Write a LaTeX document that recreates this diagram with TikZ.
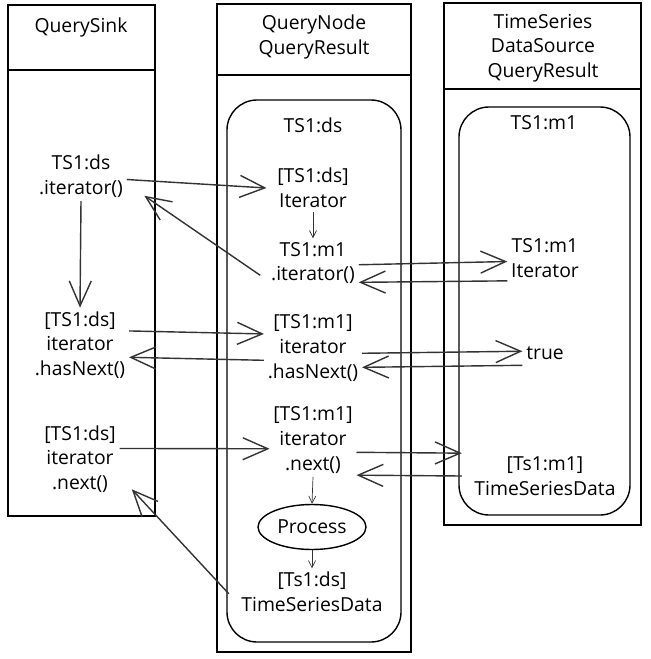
\documentclass[tikz,border=0pt]{standalone}
\usepackage{fontspec}
\setmainfont{Open Sans}
\usetikzlibrary{arrows.meta}
\usetikzlibrary{shapes.geometric}

\begin{document}
\begin{tikzpicture}[x=0.2mm, y=-0.2mm,
        lbl/.style={align=center, font=\fontsize{11}{14}\selectfont, inner sep=2pt},
        flow/.style={thick, black!80, -{Straight Barb[length=5mm, width=4.4mm]}},
        shortflow/.style={thin, black!80, -{Straight Barb[length=1.4mm, width=1.4mm]}}]
        \useasboundingbox (0,0) rectangle (650,659);
        % columns
        \draw[thick] (8,5) rectangle (155,516);
        \draw[thick] (8,70) -- (155,70);
        \draw[thick] (217,4) rectangle (411,652);
        \draw[thick] (217,75) -- (411,75);
        \draw[thick, rounded corners=6mm] (227,100) rectangle (401,642);
        \draw[thick] (444,3) rectangle (641,525);
        \draw[thick] (444,89) -- (641,89);
        \draw[thick, rounded corners=6mm] (459,107) rectangle (630,515);
        % titles
        \node[lbl] (sinkTitle) at (81,27) {QuerySink};
        \node[lbl] (nodeTitle) at (314,37) {QueryNode\\QueryResult};
        \node[lbl] (srcTitle) at (543,48) {TimeSeries\\DataSource\\QueryResult};
        \node[lbl] (dsLabel) at (313,125) {TS1:ds};
        \node[lbl] (m1Label) at (544,123) {TS1:m1};
        % QuerySink
        \node[lbl] (sinkIter) at (81,176) {TS1:ds\\.iterator()};
        \node[lbl] (sinkHasNext) at (80,345) {[TS1:ds]\\iterator\\.hasNext()};
        \node[lbl] (sinkNext) at (80,459) {[TS1:ds]\\iterator\\.next()};
        % QueryNode
        \node[lbl] (dsIter) at (313,188) {[TS1:ds]\\Iterator};
        \node[lbl] (m1IterCall) at (313,263) {TS1:m1\\.iterator()};
        \node[lbl] (m1HasNext) at (313,348) {[TS1:m1]\\iterator\\.hasNext()};
        \node[lbl] (m1Next) at (313,440) {[TS1:m1]\\iterator\\.next()};
        \node[lbl, draw, thick, ellipse, minimum width=19mm, minimum height=9mm] (process) at (312,527) {Process};
        \node[lbl] (dsData) at (312,592) {[Ts1:ds]\\TimeSeriesData};
        % TimeSeries DataSource
        \node[lbl] (m1Iter) at (545,258) {TS1:m1\\Iterator};
        \node[lbl] (trueVal) at (545,353) {true};
        \node[lbl] (m1Data) at (545,476) {[Ts1:m1]\\TimeSeriesData};
        % calls
        \draw[flow] ([yshift=-2pt]sinkIter.east) -- ([xshift=-4pt]dsIter.west);
        \draw[flow] ([xshift=-4pt, yshift=-7pt]m1IterCall.west) -- ([xshift=10pt, yshift=3pt]sinkIter.south east);
        \draw[flow] (sinkIter.south) -- (sinkHasNext.north);
        \draw[shortflow] (dsIter.south) -- (m1IterCall.north);
        \draw[flow] ([yshift=-1pt]m1IterCall.east) -- ([yshift=-2pt]m1Iter.west);
        \draw[flow] ([yshift=-13pt]m1Iter.west) -- ([yshift=-11pt]m1IterCall.east);
        \draw[flow] ([yshift=8pt]sinkHasNext.east) -- ([yshift=8pt]m1HasNext.west);
        \draw[flow] ([yshift=-7pt]m1HasNext.west) -- ([yshift=-7pt]sinkHasNext.east);
        \draw[flow] ([yshift=-3pt]m1HasNext.east) -- ([yshift=1pt]trueVal.west);
        \draw[flow] ([yshift=-7pt]trueVal.west) -- ([yshift=-11pt]m1HasNext.east);
        \draw[flow] ([yshift=6pt]sinkNext.east) -- ([yshift=-5pt]m1Next.west);
        \draw[flow] ([yshift=-7pt]m1Next.east) -- ([xshift=-5pt, yshift=13pt]m1Data.west);
        \draw[flow] ([xshift=-5pt]m1Data.west) -- ([yshift=-20pt]m1Next.east);
        \draw[shortflow] (m1Next.south) -- (process.north);
        \draw[shortflow] (process.south) -- (dsData.north);
        \draw[flow] ([xshift=-5pt, yshift=-1pt]dsData.west) -- ([xshift=7pt, yshift=4pt]sinkNext.south east);
\end{tikzpicture}
\end{document}
